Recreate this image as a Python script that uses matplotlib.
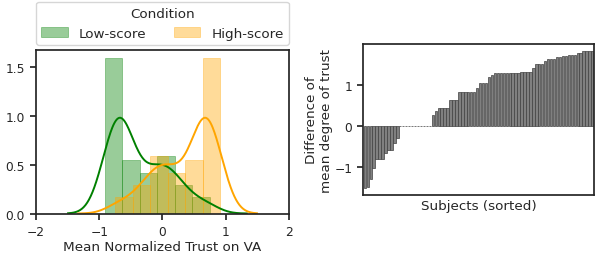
import numpy as np
import matplotlib
matplotlib.use('Agg')
import matplotlib.pyplot as plt

# per-subject mean normalized trust (value, how many subjects)
low_values = [-0.91, -0.84, -0.76, -0.69, -0.64, -0.6, -0.5, -0.4, -0.3, -0.2, -0.12,
              -0.04, 0.04, 0.1, 0.17, 0.25, 0.35, 0.44, 0.55, 0.65, 0.75]
low_counts = [8, 4, 6, 8, 12, 4, 5, 4, 3, 4, 3, 4, 4, 3, 3, 3, 2, 2, 1, 1, 2]
high_values = [-0.75, -0.65, -0.55, -0.44, -0.35, -0.25, -0.17, -0.1, -0.04, 0.04, 0.12,
               0.2, 0.3, 0.4, 0.5, 0.6, 0.64, 0.69, 0.76, 0.84, 0.91]
high_counts = [2, 1, 1, 2, 2, 3, 3, 3, 4, 4, 3, 4, 3, 4, 5, 4, 12, 8, 6, 4, 8]

# sorted per-subject difference of mean degree of trust
diff = [-1.52, -1.50, -1.30, -1.02, -0.82, -0.82, -0.82, -0.66, -0.60, -0.60, -0.41, -0.30,
        0.0, 0.0, 0.0, 0.0, 0.0, 0.0, 0.0, 0.0, 0.0, 0.0, 0.0,
        0.25, 0.35, 0.44, 0.44, 0.44, 0.44, 0.62, 0.62, 0.62,
        0.81, 0.81, 0.81, 0.81, 0.81, 0.81, 0.92, 1.03, 1.03, 1.03, 1.19, 1.24,
        1.29, 1.29, 1.29, 1.29, 1.29, 1.29, 1.29, 1.29, 1.29, 1.31, 1.31, 1.31, 1.31,
        1.41, 1.49, 1.49, 1.49, 1.58, 1.63, 1.63, 1.63, 1.67, 1.67, 1.70, 1.70,
        1.73, 1.73, 1.73, 1.77, 1.77, 1.82, 1.82, 1.82, 1.82]

conditions = ['Low-score', 'High-score']
colors = ['green', 'orange']

plt.rcParams.update({
  'font.family': 'DejaVu Sans',
  'text.color': '#262626',
  'axes.labelcolor': '#262626',
  'xtick.color': '#262626',
  'ytick.color': '#262626',
  'axes.edgecolor': '#262626',
  'axes.linewidth': 1.25,
  'xtick.major.width': 1.25,
  'ytick.major.width': 1.25,
  'xtick.major.size': 4.5,
  'ytick.major.size': 4.5,
  'xtick.labelsize': 8.8,
  'ytick.labelsize': 8.8,
  'axes.labelsize': 9.7,
})


def kde(data):
  # scott bandwidth, statsmodels flavour
  q75, q25 = np.percentile(data, [75, 25])
  a = min(np.std(data, ddof=1), (q75 - q25) / 1.349)
  bw = 1.059 * a * len(data) ** (-1 / 5)
  grid = np.linspace(data.min() - 3 * bw, data.max() + 3 * bw, 300)
  dens = np.exp(-0.5 * ((grid[:, None] - data[None, :]) / bw) ** 2).sum(axis=1)
  dens /= len(data) * bw * np.sqrt(2 * np.pi)
  return grid, dens


fig = plt.figure(figsize=(5.95, 2.55), dpi=100)
ax = fig.add_axes([0.0605, 0.1588, 0.4252, 0.641])
ax2 = fig.add_axes([0.6106, 0.2314, 0.3877, 0.592])

handles = []
for vals, cnts, c in zip([low_values, high_values], [low_counts, high_counts], colors):
  data = np.repeat(vals, cnts)
  _, _, patches = ax.hist(data, bins=6, density=True, color=c, alpha=0.4,
                          edgecolor=c, linewidth=0.6)
  handles.append(patches[0])
  g, d = kde(data)
  ax.plot(g, d, color=c, lw=1.4)

ax.set_xlim(-2, 2)
ax.set_xticks([-2, -1, 0, 1, 2])
ax.set_yticks([0.0, 0.5, 1.0, 1.5])
ax.set_xlabel('Mean Normalized Trust on VA', labelpad=2)
ax.legend(handles, conditions, title='Condition', ncol=2, mode='expand',
          loc='lower left', bbox_to_anchor=(0, 1.03, 1, 0.2), borderaxespad=0,
          fontsize=9.7, title_fontsize=9.7, edgecolor='#cccccc')

x = np.arange(len(diff))
ax2.bar(x, diff, width=0.8, color='#808080', edgecolor='#404040', linewidth=0.5)
ax2.set_xlim(-0.5, len(diff) - 0.5)
ax2.set_xticks([])
ax2.set_yticks([-1, 0, 1])
ax2.set_xlabel('Subjects (sorted)', labelpad=3)
ax2.set_ylabel('Difference of\nmean degree of trust', labelpad=1)

fig.savefig('out.png', dpi=100)
